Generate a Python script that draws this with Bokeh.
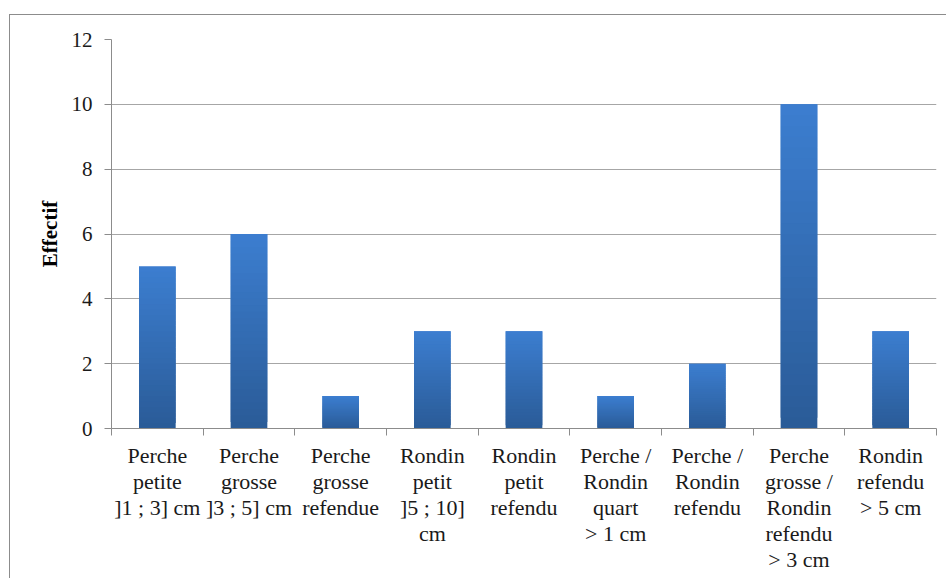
from bokeh.plotting import figure
from bokeh.models import (Range1d, LinearAxis, FixedTicker, ColumnDataSource)
from bokeh.embed import file_html
from bokeh.resources import INLINE

categories = ["Perche\npetite\n]1 ; 3] cm", "Perche\ngrosse\n]3 ; 5] cm", "Perche\ngrosse\nrefendue",
              "Rondin\npetit\n]5 ; 10]\ncm", "Rondin\npetit\nrefendu", "Perche /\nRondin\nquart\n> 1 cm",
              "Perche /\nRondin\nrefendu", "Perche\ngrosse /\nRondin\nrefendu\n> 3 cm", "Rondin\nrefendu\n> 5 cm"]
values = [5, 6, 1, 3, 3, 1, 2, 10, 3]
y_ticks = [0, 2, 4, 6, 8, 10, 12]
y_label = "Effectif"

n = len(categories)
centers = [i + 0.5 for i in range(n)]
bounds = list(range(n + 1))

FONT = "Liberation Serif"
GRID = "#a6a6a6"
AXIS = "#8c8c8c"

p = figure(width=946, height=578, x_range=Range1d(0, n),
           y_range=Range1d(0, 12), output_backend="svg", toolbar_location=None,
           x_axis_type=None, min_border_left=111, min_border_right=10,
           min_border_top=39, min_border_bottom=150)
p.outline_line_color = None
p.background_fill_color = "white"
p.border_fill_color = None
# outer chart border (drawn behind the transparent canvas border area)
p.styles = {
    "background-color": "white",
    "background-image": "linear-gradient(#8c8c8c, #8c8c8c), linear-gradient(#8c8c8c, #8c8c8c)",
    "background-size": "1px 100%, 100% 1px",
    "background-position": "9px 14px, 9px 14px",
    "background-repeat": "no-repeat",
}

# gradient bars: overlapping slices from dark (bottom) to light (top)
N = 30
top_c = (0x3c, 0x7e, 0xd0)
bot_c = (0x2a, 0x5b, 0x97)
xs, bots, tops, cols = [], [], [], []
for cx, v in zip(centers, values):
    for k in range(N):
        t = (k + 0.5) / N
        c = tuple(int(round(bot_c[j] + (top_c[j] - bot_c[j]) * t)) for j in range(3))
        xs.append(cx)
        bots.append(v * k / N)
        tops.append(min(v, v * (k + 2.0) / N))
        cols.append("#%02x%02x%02x" % c)
src = ColumnDataSource(dict(x=xs, bottom=bots, top=tops, color=cols))
p.vbar(x="x", bottom="bottom", top="top", width=0.4, fill_color="color", line_color=None, source=src)

# y axis
p.yaxis.ticker = FixedTicker(ticks=y_ticks)
p.yaxis.axis_label = y_label
p.yaxis.axis_label_text_font = FONT
p.yaxis.axis_label_text_font_style = "bold"
p.yaxis.axis_label_text_font_size = "21px"
p.yaxis.axis_label_text_color = "black"
p.yaxis.axis_label_standoff = 7
p.yaxis.major_label_text_font = FONT
p.yaxis.major_label_text_font_size = "21px"
p.yaxis.major_label_text_color = "#1a1a1a"
p.yaxis.major_label_standoff = 12
p.yaxis.axis_line_color = AXIS
p.yaxis.major_tick_line_color = AXIS
p.yaxis.major_tick_out = 7
p.yaxis.major_tick_in = 0
p.yaxis.minor_tick_line_color = None

p.ygrid.ticker = FixedTicker(ticks=y_ticks)
p.ygrid.grid_line_color = GRID
p.xgrid.grid_line_color = None

# category axis: labels at centres, tick marks (minor) at category boundaries
cat_axis = LinearAxis(ticker=FixedTicker(ticks=centers, minor_ticks=bounds),
                      axis_line_color=AXIS, major_tick_line_color=None,
                      major_tick_out=7, major_tick_in=0,
                      minor_tick_line_color=AXIS, minor_tick_out=7, minor_tick_in=0,
                      major_label_overrides={c: lab for c, lab in zip(centers, categories)},
                      major_label_text_font=FONT, major_label_text_font_size="22px",
                      major_label_text_color="#1a1a1a", major_label_standoff=7,
                      major_label_text_line_height=1.04)
p.add_layout(cat_axis, "below")

open("out.html", "w").write(file_html(p, INLINE))
